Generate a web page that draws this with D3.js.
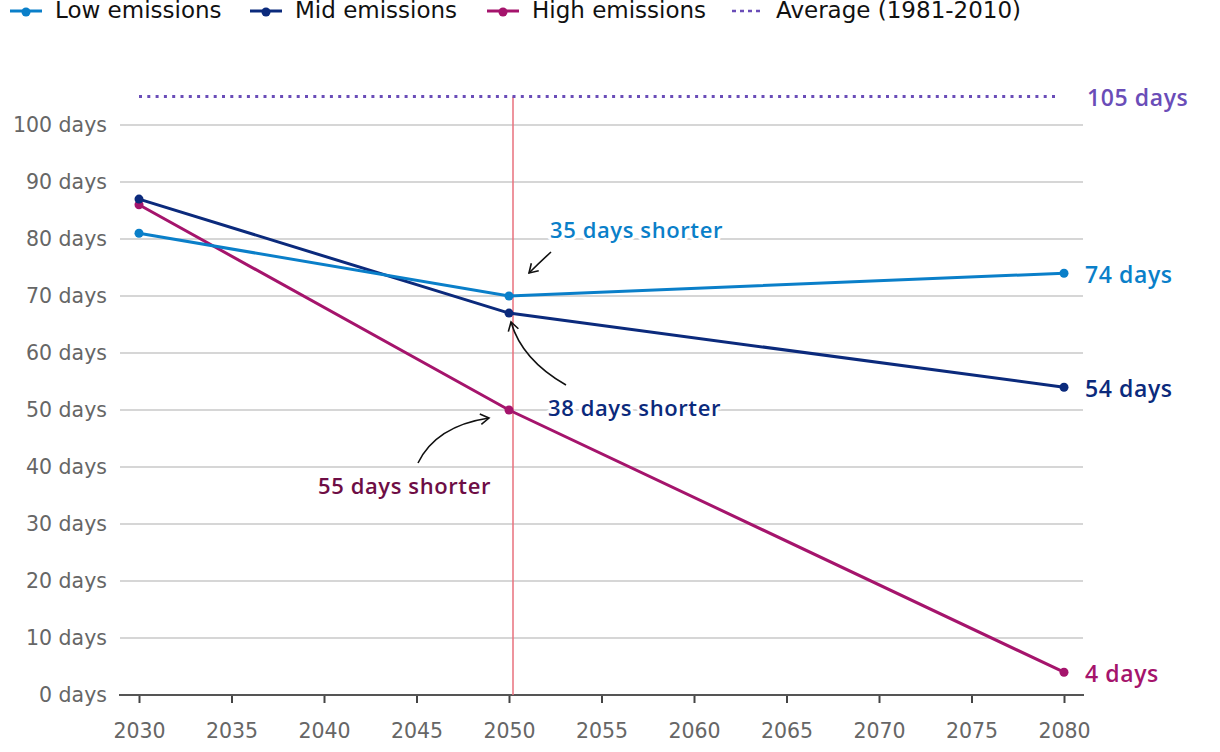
<!DOCTYPE html>
<html><head><meta charset="utf-8">
<script src="https://cdn.jsdelivr.net/npm/d3@7"></script>
<style>
body{margin:0;background:#fff;}
svg{display:block;font-family:"DejaVu Sans",sans-serif;}
</style></head>
<body><svg id="chart" width="1220" height="752"></svg>
<script>
const years = [2030, 2050, 2080];
const lowValues = [81, 70, 74];
const midValues = [87, 67, 54];
const highValues = [86, 50, 4];
const averageValue = 105;
const yTicks = [0,10,20,30,40,50,60,70,80,90,100];
const xTicks = [2030,2035,2040,2045,2050,2055,2060,2065,2070,2075,2080];
const seriesNames = ["Low emissions","Mid emissions","High emissions"];
const seriesColors = ["#0a7fc9","#0b2a7c","#a5146c"];
const endLabels = ["74 days","54 days","4 days"];
const annotations = [
  {text:"35 days shorter", color:"#0a7fc9"},
  {text:"38 days shorter", color:"#0b2a7c"},
  {text:"55 days shorter", color:"#6e0d45"}
];
const avgName = "Average (1981-2010)";
const avgColor = "#6a4db8";
const boldFont = "'Open Sans',sans-serif";

const svg = d3.select("#chart");
const x = d3.scaleLinear().domain([2030,2080]).range([139,1064]);
const y = d3.scaleLinear().domain([0,100]).range([695,125]);

// gridlines
svg.append("g").selectAll("line").data(yTicks.filter(d=>d>0)).join("line")
  .attr("x1",120).attr("x2",1083).attr("y1",d=>y(d)).attr("y2",d=>y(d))
  .attr("stroke","#d6d6d6").attr("stroke-width",2);

// y labels
svg.append("g").selectAll("text").data(yTicks).join("text")
  .attr("x",107).attr("y",d=>y(d)).attr("dy","0.36em").attr("text-anchor","end")
  .attr("font-size",20.5).attr("fill","#666").text(d=>d+" days");

// x axis
const xAxis = d3.axisBottom(x).tickValues(xTicks).tickFormat(d3.format("d")).tickSize(8).tickSizeOuter(0);
const gx = svg.append("g").attr("transform",`translate(0,${y(0)})`).call(xAxis);
gx.select(".domain").remove();
gx.append("line").attr("x1",119).attr("x2",1084).attr("stroke","#555").attr("stroke-width",2);
gx.selectAll(".tick line").attr("stroke","#444").attr("stroke-width",2);
gx.selectAll(".tick text").attr("font-size",20.5).attr("fill","#666")
  .attr("font-family","'DejaVu Sans',sans-serif").attr("y",36).attr("dy","0.36em");

// vertical red line at 2050
svg.append("line").attr("x1",x(2050)+4).attr("x2",x(2050)+4).attr("y1",y(averageValue)).attr("y2",y(0))
  .attr("stroke","#e8707c").attr("stroke-width",1.5);

// average line
svg.append("line").attr("x1",x(2030)).attr("x2",1060).attr("y1",y(averageValue)).attr("y2",y(averageValue))
  .attr("stroke",avgColor).attr("stroke-width",3).attr("stroke-dasharray","3,5.3");
svg.append("text").attr("x",1087).attr("y",y(averageValue)+1).attr("dy","0.36em")
  .attr("font-family",boldFont).attr("letter-spacing",0.6)
  .attr("font-size",23).attr("font-weight",600).attr("fill",avgColor).text(averageValue+" days");

// series
const allSeries = [lowValues, midValues, highValues];
const line = d3.line().x((d,i)=>x(years[i])).y(d=>y(d));
[2,1,0].forEach(k=>{
  svg.append("path").datum(allSeries[k]).attr("d",line).attr("fill","none")
    .attr("stroke",seriesColors[k]).attr("stroke-width",3);
  svg.append("g").selectAll("circle").data(allSeries[k]).join("circle")
    .attr("cx",(d,i)=>x(years[i])).attr("cy",d=>y(d)).attr("r",4.5).attr("fill",seriesColors[k]);
});
allSeries.forEach((s,k)=>{
  svg.append("text").attr("x",1085).attr("y",y(s[2])+2).attr("dy","0.36em")
    .attr("font-family",boldFont).attr("letter-spacing",0.6)
    .attr("font-size",23).attr("font-weight",600).attr("fill",seriesColors[k]).text(endLabels[k]);
});

// annotations
const annPos = [[550,230],[548,408],[318,486]];
annotations.forEach((a,k)=>{
  svg.append("text").attr("x",annPos[k][0]).attr("y",annPos[k][1]).attr("dy","0.36em")
    .attr("font-family",boldFont).attr("letter-spacing",0.6)
    .attr("font-size",22).attr("font-weight",600).attr("fill",a.color)
    .attr("stroke","#fff").attr("stroke-width",6).attr("paint-order","stroke").attr("stroke-linejoin","round")
    .text(a.text);
});
// arrows
function arrow(p0, c, p1){
  const path = d3.path();
  path.moveTo(p0[0],p0[1]);
  path.quadraticCurveTo(c[0],c[1],p1[0],p1[1]);
  svg.append("path").attr("d",path.toString()).attr("fill","none").attr("stroke","#111").attr("stroke-width",1.6);
  const ang = Math.atan2(p1[1]-c[1], p1[0]-c[0]);
  const L = 10, spread = 0.55;
  const h = d3.path();
  h.moveTo(p1[0]-L*Math.cos(ang-spread), p1[1]-L*Math.sin(ang-spread));
  h.lineTo(p1[0],p1[1]);
  h.lineTo(p1[0]-L*Math.cos(ang+spread), p1[1]-L*Math.sin(ang+spread));
  svg.append("path").attr("d",h.toString()).attr("fill","none").attr("stroke","#111").attr("stroke-width",1.6);
}
arrow([551,252],[540,262],[529,273]);
arrow([566,385],[522,360],[511,322]);
arrow([418,463],[436,426],[489,418]);

// legend (partially cropped at top)
const legX = [10,250,487];
seriesNames.forEach((n,k)=>{
  const g = svg.append("g");
  g.append("line").attr("x1",legX[k]).attr("x2",legX[k]+32).attr("y1",11).attr("y2",11)
    .attr("stroke",seriesColors[k]).attr("stroke-width",3);
  g.append("circle").attr("cx",legX[k]+16).attr("cy",12).attr("r",4.5).attr("fill",seriesColors[k]);
  g.append("text").attr("x",legX[k]+45).attr("y",18).attr("font-size",23).attr("fill","#111").text(n);
});
svg.append("line").attr("x1",732).attr("x2",764).attr("y1",11).attr("y2",11)
  .attr("stroke",avgColor).attr("stroke-width",2.5).attr("stroke-dasharray","4,4");
svg.append("text").attr("x",776).attr("y",18).attr("font-size",23).attr("fill","#111").text(avgName);
</script></body></html>
